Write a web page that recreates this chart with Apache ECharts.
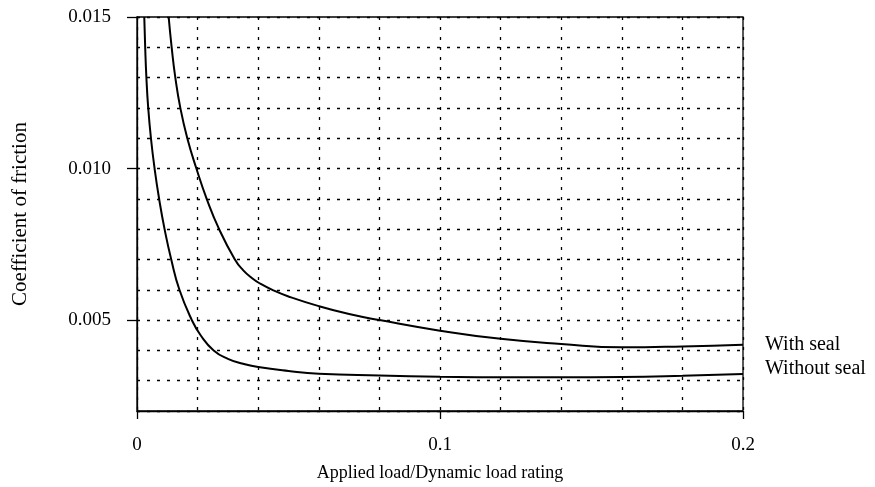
<!DOCTYPE html>
<html>
<head>
<meta charset="utf-8">
<script src="https://cdn.jsdelivr.net/npm/echarts@6/dist/echarts.min.js"></script>
<style>
  html, body { margin: 0; padding: 0; background: #fff; }
  #chart { width: 875px; height: 487px; }
</style>
</head>
<body>
<div id="chart"></div>
<script>
// values
const withSealX = [0.01045, 0.01144, 0.01265, 0.0143, 0.0166, 0.0196, 0.023, 0.0271, 0.0323, 0.035, 0.038, 0.0407, 0.045, 0.05, 0.06, 0.07, 0.08, 0.1, 0.12, 0.14, 0.16, 0.18, 0.2];
const withSealY = [0.015, 0.014, 0.013, 0.012, 0.011, 0.010, 0.009, 0.008, 0.007, 0.00665, 0.00638, 0.0062, 0.00598, 0.00578, 0.00546, 0.0052, 0.0050, 0.00465, 0.00438, 0.00421, 0.0041, 0.00413, 0.00419];

const withoutSealX = [0.0024, 0.0027, 0.0031, 0.0037, 0.0046, 0.0058, 0.0073, 0.0091, 0.0113, 0.014, 0.0181, 0.021, 0.0253, 0.03, 0.035, 0.04, 0.05, 0.06, 0.08, 0.1, 0.12, 0.14, 0.16, 0.18, 0.2];
const withoutSealY = [0.015, 0.014, 0.013, 0.012, 0.011, 0.010, 0.009, 0.008, 0.007, 0.006, 0.005, 0.0045, 0.004, 0.00372, 0.00356, 0.00345, 0.00332, 0.00323, 0.00317, 0.00313, 0.00311, 0.00311, 0.00312, 0.00316, 0.00322];

const xLabels = [0, 0.1, 0.2];
const yLabels = [0.005, 0.010, 0.015];

const serif = 'Liberation Serif';
const gridDots = { color: '#000', width: 1.3, type: [3, 7] };

const pairs = (xs, ys) => xs.map((x, i) => [x, ys[i]]);

const chart = echarts.init(document.getElementById('chart'));

const option = {
  animation: false,
  backgroundColor: '#fff',
  grid: {
    left: 137,
    right: 132,
    top: 17,
    bottom: 76,
    show: true,
    borderColor: '#000',
    borderWidth: 1.3
  },
  xAxis: [
    {
      type: 'value',
      min: 0,
      max: 0.2,
      name: 'Applied load/Dynamic load rating',
      nameLocation: 'middle',
      nameGap: 53,
      nameTextStyle: { color: '#000', fontFamily: serif, fontSize: 18 },
      axisLine: { show: true, lineStyle: { color: '#000', width: 1.3 } },
      axisTick: {
        show: true,
        customValues: xLabels,
        length: 8,
        lineStyle: { color: '#000', width: 1.3 }
      },
      axisLabel: {
        customValues: xLabels,
        margin: 25,
        color: '#000',
        fontFamily: serif,
        fontSize: 19,
        formatter: v => (v === 0 ? '0' : String(+v.toFixed(1)))
      },
      splitLine: { show: false }
    },
    {
      // dotted grid only
      type: 'value',
      position: 'bottom',
      min: 0,
      max: 0.2,
      interval: 0.02,
      axisLine: { show: false },
      axisTick: { show: false },
      axisLabel: { show: false },
      splitLine: { show: true, lineStyle: gridDots }
    }
  ],
  yAxis: [
    {
      type: 'value',
      min: 0.002,
      max: 0.015,
      name: 'Coefficient of friction',
      nameLocation: 'middle',
      nameGap: 106,
      nameTextStyle: { color: '#000', fontFamily: serif, fontSize: 21 },
      axisLine: { show: true, lineStyle: { color: '#000', width: 1.3 } },
      axisTick: {
        show: true,
        customValues: yLabels,
        length: 10,
        lineStyle: { color: '#000', width: 1.3 }
      },
      axisLabel: {
        customValues: yLabels,
        margin: 26,
        color: '#000',
        fontFamily: serif,
        fontSize: 19,
        formatter: v => v.toFixed(3)
      },
      splitLine: { show: false }
    },
    {
      // dotted grid only
      type: 'value',
      position: 'left',
      min: 0.002,
      max: 0.015,
      interval: 0.001,
      axisLine: { show: false },
      axisTick: { show: false },
      axisLabel: { show: false },
      splitLine: { show: true, lineStyle: gridDots }
    }
  ],
  series: [
    {
      name: 'With seal',
      type: 'line',
      smooth: 0.5,
      showSymbol: false,
      lineStyle: { color: '#000', width: 2 },
      endLabel: {
        show: true,
        formatter: '{a}',
        distance: 22,
        color: '#000',
        fontFamily: serif,
        fontSize: 20
      },
      data: pairs(withSealX, withSealY)
    },
    {
      name: 'Without seal',
      type: 'line',
      smooth: 0.5,
      showSymbol: false,
      lineStyle: { color: '#000', width: 2 },
      endLabel: {
        show: true,
        formatter: '{a}',
        distance: 22,
        offset: [0, -5],
        color: '#000',
        fontFamily: serif,
        fontSize: 20
      },
      data: pairs(withoutSealX, withoutSealY)
    }
  ]
};

chart.setOption(option);
</script>
</body>
</html>
